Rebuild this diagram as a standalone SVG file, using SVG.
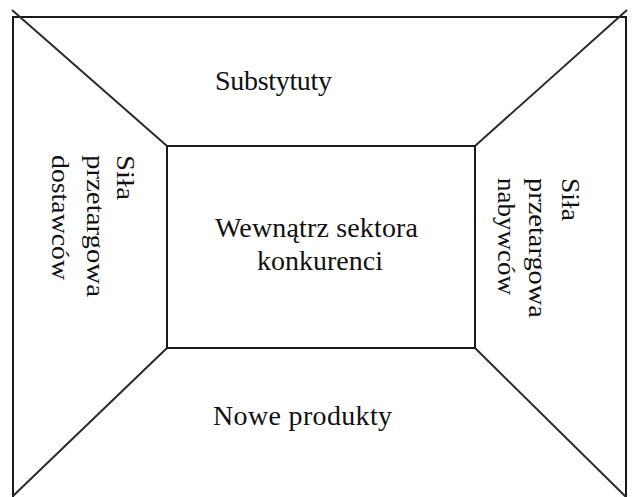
<svg xmlns="http://www.w3.org/2000/svg" width="634" height="497" viewBox="0 0 634 497">
<style>
.box{fill:none;stroke:#1a1a1a;stroke-width:2}
.edge{stroke:#2a2a2a;stroke-width:2;fill:none}
.t{font-family:"Liberation Serif","Times New Roman",serif;font-size:28px;fill:#111}
.v{font-family:"Liberation Serif","Times New Roman",serif;font-size:26px;fill:#111}
</style>
<rect width="634" height="497" fill="#fff"/>
<g id="outer"><rect class="box" x="13" y="17" width="613" height="484"/></g>
<g id="connectors">
<line class="edge" x1="12" y1="10" x2="167" y2="146"/>
<line class="edge" x1="627" y1="10" x2="475" y2="146"/>
<line class="edge" x1="167" y1="348" x2="13" y2="496"/>
<line class="edge" x1="475" y1="348" x2="626" y2="497"/>
</g>
<g id="center">
<rect class="box" x="167" y="146" width="308" height="202"/>
<text class="t" x="215" y="237" textLength="203" lengthAdjust="spacing">Wewnątrz sektora</text>
<text class="t" x="257" y="270" textLength="126" lengthAdjust="spacing">konkurenci</text>
</g>
<g id="top"><text class="t" x="215" y="90" textLength="117" lengthAdjust="spacing">Substytuty</text></g>
<g id="bottom"><text class="t" x="213" y="425" textLength="179" lengthAdjust="spacing">Nowe produkty</text></g>
<g id="left">
<text class="v" transform="translate(117,155) rotate(90)" textLength="45" lengthAdjust="spacingAndGlyphs">Siła</text>
<text class="v" transform="translate(87,155) rotate(90)" textLength="142" lengthAdjust="spacingAndGlyphs">przetargowa</text>
<text class="v" transform="translate(52,155) rotate(90)" textLength="125" lengthAdjust="spacingAndGlyphs">dostawców</text>
</g>
<g id="right">
<text class="v" transform="translate(562,178) rotate(90)" textLength="43" lengthAdjust="spacingAndGlyphs">Siła</text>
<text class="v" transform="translate(529,178) rotate(90)" textLength="140" lengthAdjust="spacingAndGlyphs">przetargowa</text>
<text class="v" transform="translate(498,178) rotate(90)" textLength="117" lengthAdjust="spacingAndGlyphs">nabywców</text>
</g>
</svg>
